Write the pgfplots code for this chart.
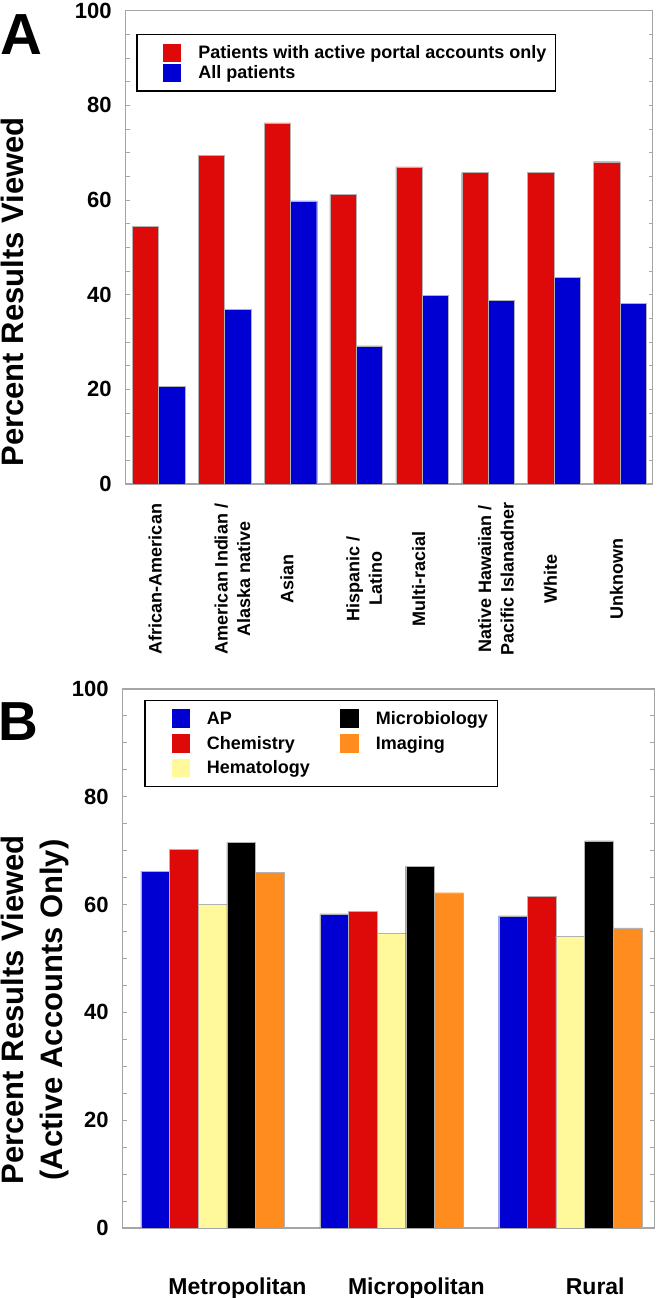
\documentclass[border=0pt]{standalone}
\usepackage{fontspec}
\setmainfont{Liberation Sans}
\usepackage{pgfplots}
\pgfplotsset{compat=1.18}
\definecolor{myred}{RGB}{222,10,10}
\definecolor{myblue}{RGB}{0,0,210}
\definecolor{myyellow}{RGB}{255,249,155}
\definecolor{myorange}{RGB}{255,140,30}
\definecolor{framegray}{RGB}{165,165,165}
\newcommand{\tl}[2]{\begin{tabular}[t]{@{}c@{}}#1\\#2\end{tabular}}
\pgfplotsset{
  sq/.style={legend image code/.code={\path (-17pt,0pt); \fill[#1] (0pt,-8.5pt) rectangle (17pt,8.5pt);}},
  common/.style={
    scale only axis, ymin=0, ymax=100,
    axis line style={draw=framegray, line width=1.2pt},
    ytick={0,20,...,100}, minor ytick={5,10,...,95},
    ytick pos=both, yticklabel pos=left,
    tick align=inside,
    major tick length=4pt, minor tick length=4pt,
    every tick/.style={draw=framegray, line width=0.9pt},
    x tick style={draw=none},
    /pgf/number format/assume math mode=true,
    yticklabel style={font=\fontsize{22}{26}\selectfont\bfseries, inner sep=0pt, anchor=east, xshift=-14pt},
    legend cell align=left,
  },
}
\begin{document}
\begin{tikzpicture}[x=1pt,y=1pt]
\path[use as bounding box] (0,0) rectangle (660,1298);
\node[anchor=base west, inner sep=0pt, font=\fontsize{58}{60}\selectfont\bfseries] at (0,1243) {A};
\node[anchor=base west, inner sep=0pt, font=\fontsize{55}{58}\selectfont\bfseries] at (-2,557) {B};

\begin{axis}[common,
  at={(125.7pt,814pt)}, anchor=south west,
  width=527pt, height=473.3pt,
  xmin=-0.5, xmax=7.5,
  xtick={0,...,7},
  xticklabels={African-American, {\tl{American Indian /}{Alaska native}}, Asian, {\tl{Hispanic /}{Latino}}, Multi-racial, {\tl{Native Hawaiian /}{Pacific Islanadner}}, White, Unknown},
  xticklabel style={font=\fontsize{18}{22.5}\selectfont\bfseries, inner sep=0pt, xshift=3pt, yshift=-95pt, rotate=90, anchor=base},
  ylabel={Percent Results Viewed},
  ylabel style={at={(axis description cs:-0.193,0.4057)}, anchor=base, rotate=0, font=\fontsize{31}{36}\selectfont\bfseries, inner sep=0pt},
  legend style={at={(0.0203,0.951)}, anchor=north west, draw=black, line width=1.3pt, fill=white,
    font=\fontsize{18}{21}\selectfont\bfseries, inner xsep=9pt, inner ysep=9pt,
    nodes={inner sep=0pt}, row sep=2pt,
    /tikz/every odd column/.append style={column sep=17pt}},
]
\addplot[ybar, bar width=0.4, bar shift=-0.2, fill=myred, draw=black!30, line width=0.3pt, forget plot]
  coordinates {(0,54.5) (1,69.4) (2,76.3) (3,61.2) (4,67.0) (5,65.8) (6,65.9) (7,68.1)};
\addplot[ybar, bar width=0.4, bar shift=0.2, fill=myblue, draw=black!30, line width=0.3pt, forget plot]
  coordinates {(0,20.7) (1,36.9) (2,59.8) (3,29.2) (4,39.9) (5,38.8) (6,43.7) (7,38.2)};
\addlegendimage{sq=myred}
\addlegendentry{Patients with active portal accounts only}
\addlegendimage{sq=myblue}
\addlegendentry{All patients}
\end{axis}

\begin{axis}[common,
  at={(122.7pt,70pt)}, anchor=south west,
  width=531.6pt, height=539pt,
  xmin=-0.502, xmax=2.47,
  xtick={0,1,2},
  xticklabels={Metropolitan, Micropolitan, Rural},
  xticklabel style={font=\fontsize{23}{27}\selectfont\bfseries, inner sep=0pt, anchor=base, xshift=25pt, yshift=-66.3pt},
  ylabel={Percent Results Viewed\\(Active Accounts Only)},
  ylabel style={at={(axis description cs:-0.2289,0.4045)}, anchor=north, rotate=0, align=center, font=\fontsize{31}{39}\selectfont\bfseries, inner sep=0pt},
  legend columns=2,
  legend style={at={(0.0408,0.98)}, anchor=north west, draw=black, line width=1.3pt, fill=white,
    font=\fontsize{18}{21}\selectfont\bfseries, inner xsep=9.5pt, inner ysep=9pt,
    nodes={inner sep=0pt}, row sep=6.5pt,
    /tikz/every odd column/.append style={column sep=17pt},
    /tikz/every even column/.append style={column sep=13.6pt}},
]
\addplot[ybar, bar width=0.16, bar shift=-0.32, fill=myblue, draw=black!30, line width=0.3pt, forget plot]
  coordinates {(0,66.2) (1,58.3) (2,57.9)};
\addplot[ybar, bar width=0.16, bar shift=-0.16, fill=myred, draw=black!30, line width=0.3pt, forget plot]
  coordinates {(0,70.2) (1,58.8) (2,61.5)};
\addplot[ybar, bar width=0.16, bar shift=0, fill=myyellow, draw=black!30, line width=0.3pt, forget plot]
  coordinates {(0,60.1) (1,54.7) (2,54.2)};
\addplot[ybar, bar width=0.16, bar shift=0.16, fill=black, draw=black!30, line width=0.3pt, forget plot]
  coordinates {(0,71.5) (1,67.1) (2,71.8)};
\addplot[ybar, bar width=0.16, bar shift=0.32, fill=myorange, draw=black!30, line width=0.3pt, forget plot]
  coordinates {(0,66.0) (1,62.2) (2,55.7)};
\addlegendimage{sq=myblue}
\addlegendentry{AP}
\addlegendimage{sq=black}
\addlegendentry{Microbiology}
\addlegendimage{sq=myred}
\addlegendentry{Chemistry}
\addlegendimage{sq=myorange}
\addlegendentry{Imaging}
\addlegendimage{sq={myyellow}}
\addlegendentry{Hematology}
\end{axis}
\end{tikzpicture}
\end{document}
